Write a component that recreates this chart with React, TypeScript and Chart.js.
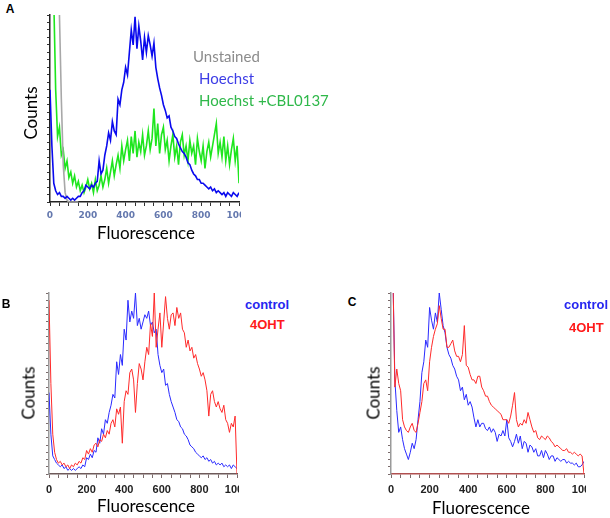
import React, { useEffect, useRef } from "react";
import { Chart, registerables } from "chart.js";
Chart.register(...registerables);

// Fluorescence channels (x values)
const channels = [
  0, 10, 20, 30, 40, 50, 60, 70, 80, 90,
  100, 110, 120, 130, 140, 150, 160, 170, 180, 190,
  200, 210, 220, 230, 240, 250, 260, 270, 280, 290,
  300, 310, 320, 330, 340, 350, 360, 370, 380, 390,
  400, 410, 420, 430, 440, 450, 460, 470, 480, 490,
  500, 510, 520, 530, 540, 550, 560, 570, 580, 590,
  600, 610, 620, 630, 640, 650, 660, 670, 680, 690,
  700, 710, 720, 730, 740, 750, 760, 770, 780, 790,
  800, 810, 820, 830, 840, 850, 860, 870, 880, 890,
  900, 910, 920, 930, 940, 950, 960, 970, 980, 990,
  1000,
];

// Panel A
const aUnstained = [110, 110, 110, 110, 110, 100, 55, 20, 5, 1, 0, 0, 0, 0, 0, 0];
const aHoechst = [
  60, 30, 10, 6, 4, 5, 3, 3, 2, 3,
  2, 1, 2, 1, 2, 3, 3, 5, 6, 9,
  8, 7, 9, 8, 10, 11, 22, 15, 17, 25,
  30, 37, 33, 43, 38, 36, 55, 52, 60, 64,
  72, 68, 80, 92, 84, 99, 82, 94, 86, 76,
  88, 80, 89, 84, 78, 85, 72, 66, 61, 57,
  52, 49, 45, 46, 40, 38, 35, 34, 31, 29,
  27, 26, 24, 21, 20, 17, 15, 14, 12, 12,
  10, 10, 9, 8, 7, 8, 6, 7, 5, 6,
  5, 4, 5, 3, 5, 4, 3, 5, 4, 3,
  5,
];
const aHoechstCBL = [
  105, 110, 108, 60, 35, 40, 25, 28, 18, 22,
  13, 16, 10, 14, 8, 11, 6, 9, 5, 8,
  12, 7, 10, 5, 12, 6, 9, 14, 8, 12,
  18, 10, 16, 22, 14, 20, 25, 18, 30, 22,
  28, 33, 22, 35, 26, 38, 24, 32, 27, 36,
  25, 30, 38, 28, 34, 50, 30, 42, 26, 36,
  40, 28, 33, 22, 30, 36, 24, 30, 20, 32,
  36, 25, 30, 22, 33, 26, 30, 20, 34, 27,
  22, 30, 18, 27, 32, 24, 30, 36, 42, 26,
  32, 24, 35, 22, 30, 20, 28, 34, 22, 30,
  10,
];

// Panel B
const bControl = [
  45, 22, 10, 8, 6, 5, 4, 5, 3, 4,
  2, 3, 2, 3, 2, 3, 4, 3, 5, 4,
  9, 8, 11, 9, 13, 12, 20, 17, 25, 22,
  30, 28, 34, 38, 44, 42, 62, 55, 66, 60,
  80, 74, 96, 84, 90, 86, 100, 82, 86, 80,
  84, 88, 86, 90, 82, 84, 78, 80, 66, 60,
  56, 58, 49, 50, 44, 40, 37, 34, 30, 29,
  26, 25, 22, 21, 19, 16, 15, 14, 12, 11,
  10, 9, 10, 8, 9, 7, 8, 6, 7, 5,
  6, 5, 6, 4, 5, 4, 5, 3, 5, 4,
  3,
];
const b4OHT = [
  96, 50, 22, 12, 8, 6, 7, 5, 6, 4,
  5, 3, 5, 4, 6, 5, 7, 6, 9, 8,
  13, 11, 14, 12, 16, 17, 15, 19, 18, 22,
  20, 24, 22, 28, 30, 26, 36, 33, 37, 17,
  40, 46, 44, 56, 58, 52, 34, 50, 61, 58,
  52, 62, 70, 66, 83, 76, 100, 70, 80, 89,
  70, 84, 98, 86, 80, 88, 89, 82, 92, 86,
  89, 80, 78, 70, 74, 68, 70, 64, 66, 61,
  58, 54, 56, 52, 46, 32, 44, 46, 40, 37,
  40, 36, 34, 38, 30, 28, 23, 28, 26, 32,
  0,
];

// Panel C
const cControl = [
  110, 110, 52, 35, 23, 26, 19, 14, 11, 8,
  12, 17, 14, 19, 30, 40, 56, 62, 74, 70,
  92, 85, 80, 89, 84, 100, 91, 82, 78, 70,
  66, 64, 60, 58, 54, 52, 46, 48, 41, 44,
  38, 40, 37, 31, 26, 30, 26, 28, 28, 25,
  24, 26, 23, 25, 23, 18, 22, 21, 24, 21,
  30, 20, 18, 15, 18, 22, 17, 21, 14, 18,
  17, 12, 16, 15, 12, 14, 10, 10, 13, 9,
  13, 11, 8, 10, 10, 7, 9, 8, 7, 8,
  8, 6, 7, 6, 6, 5, 6, 4, 4, 5,
  7,
];
const c4OHT = [
  110, 110, 48, 58, 50, 46, 30, 26, 24, 23,
  26, 28, 24, 23, 28, 34, 40, 50, 52, 46,
  62, 70, 76, 80, 83, 93, 86, 80, 80, 70,
  70, 72, 74, 68, 65, 65, 62, 66, 82, 60,
  59, 55, 52, 52, 50, 54, 54, 48, 46, 43,
  43, 40, 38, 37, 36, 35, 34, 33, 30, 30,
  30, 28, 32, 38, 45, 30, 26, 28, 27, 30,
  28, 34, 30, 26, 23, 24, 20, 19, 21, 20,
  19, 21, 20, 18, 17, 15, 16, 15, 14, 13,
  13, 14, 12, 12, 11, 12, 11, 10, 11, 10,
  0,
];

const xTickLabels = ["0", "200", "400", "600", "800", "1000"];

type Series = { data: number[]; color: string };
type PanelProps = {
  left: number;
  top: number;
  width: number;
  height: number;
  padTop: number;
  padRight: number;
  yWidth: number;
  xHeight: number;
  series: Series[];
  lineWidth: number;
  xAxisColor: string;
  yAxisColor: string;
  tickMarkColor: string;
  tickLabelColor: string;
  tickFont: { family: string; size: number; weight: string };
  tickPad: number;
};

function Panel(p: PanelProps) {
  const ref = useRef<HTMLCanvasElement>(null);
  useEffect(() => {
    const chart = new Chart(ref.current as HTMLCanvasElement, {
      type: "line",
      data: {
        labels: channels,
        datasets: p.series.map((s) => ({
          data: s.data,
          borderColor: s.color,
          borderWidth: p.lineWidth,
          pointRadius: 0,
          tension: 0,
          fill: false,
        })),
      },
      options: {
        responsive: false,
        animation: false,
        devicePixelRatio: 1,
        layout: { padding: { top: p.padTop, right: p.padRight, left: 0, bottom: 0 } },
        plugins: { legend: { display: false }, tooltip: { enabled: false } },
        scales: {
          x: {
            type: "linear",
            min: 0,
            max: 1000,
            border: { display: true, color: p.xAxisColor, width: 1.5 },
            grid: { drawOnChartArea: false, drawTicks: true, tickLength: 4, color: p.tickMarkColor },
            ticks: {
              stepSize: 50,
              autoSkip: false,
              maxRotation: 0,
              padding: p.tickPad,
              color: p.tickLabelColor,
              font: p.tickFont as any,
              callback: (v: any) => {
                const n = Number(v);
                return n % 200 === 0 ? xTickLabels[n / 200] : "";
              },
            },
            afterFit: (s: any) => {
              s.height = p.xHeight;
              s.paddingLeft = 0;
              s.paddingRight = 0;
            },
          },
          y: {
            min: 0,
            max: 100,
            border: { display: true, color: p.yAxisColor, width: 1.5 },
            grid: { drawOnChartArea: false, drawTicks: true, tickLength: 3, color: p.tickMarkColor },
            ticks: { display: false, stepSize: 4 },
            afterFit: (s: any) => {
              s.width = p.yWidth;
            },
          },
        },
      },
    });
    return () => chart.destroy();
  }, []);
  return (
    <canvas
      ref={ref}
      width={p.width}
      height={p.height}
      style={{ position: "absolute", left: p.left, top: p.top, width: p.width, height: p.height }}
    />
  );
}

function Txt(props: {
  x: number;
  y: number;
  text: string;
  color?: string;
  size: number;
  family: string;
  bold?: boolean;
  rotate?: boolean;
  anchor?: "left" | "center";
}) {
  const tx = props.anchor === "left" ? "0" : "-50%";
  return (
    <div
      style={{
        position: "absolute",
        left: props.x,
        top: props.y,
        transform: `translate(${tx}, -50%)${props.rotate ? " rotate(-90deg)" : ""}`,
        transformOrigin: props.rotate ? "50% 50%" : undefined,
        color: props.color || "#000",
        fontSize: props.size,
        fontFamily: props.family,
        fontWeight: props.bold ? 700 : 400,
        whiteSpace: "nowrap",
        lineHeight: 1,
      }}
    >
      {props.text}
    </div>
  );
}

const calibri = "Lato, 'Open Sans', sans-serif";
const arial = "'Liberation Sans', Arial, sans-serif";

export default function App() {
  return (
    <div style={{ position: "absolute", left: 0, top: 0, width: 610, height: 518, background: "#fff" }}>
      {/* Panel A */}
      <Panel
        left={38}
        top={10}
        width={203}
        height={220}
        padTop={5}
        padRight={2}
        yWidth={12}
        xHeight={28}
        lineWidth={1.6}
        series={[
          { data: aHoechst, color: "#0a0aee" },
          { data: aUnstained, color: "#a8a8a8" },
          { data: aHoechstCBL, color: "#1ee61e" },
        ]}
        xAxisColor="#222"
        yAxisColor="#222"
        tickMarkColor="#333"
        tickLabelColor="#6478ae"
        tickFont={{ family: "'DejaVu Sans', sans-serif", size: 9, weight: "bold" }}
        tickPad={4}
      />
      <Txt x={10} y={9} text="A" size={12} family={arial} bold />
      <Txt x={30} y={113} text="Counts" size={17} family={calibri} rotate />
      <Txt x={146} y={232} text="Fluorescence" size={17} family={calibri} />
      <Txt x={193} y={56} text="Unstained" size={15} family={calibri} color="#8c8c8c" anchor="left" />
      <Txt x={199} y={78} text="Hoechst" size={15} family={calibri} color="#3d3de6" anchor="left" />
      <Txt x={199} y={100} text="Hoechst +CBL0137" size={15} family={calibri} color="#2fb84a" anchor="left" />

      {/* Panel B */}
      <Panel
        left={37}
        top={285}
        width={202}
        height={230}
        padTop={8}
        padRight={2}
        yWidth={12}
        xHeight={41}
        lineWidth={1}
        series={[
          { data: b4OHT, color: "#ff2a2a" },
          { data: bControl, color: "#2a2aff" },
        ]}
        xAxisColor="#6e5a5a"
        yAxisColor="#9a9a9a"
        tickMarkColor="#7a6a6a"
        tickLabelColor="#222"
        tickFont={{ family: arial, size: 11, weight: "bold" }}
        tickPad={5}
      />
      <Txt x={6} y={304} text="B" size={12} family={arial} bold />
      <Txt x={28} y={393} text="Counts" size={17} family={calibri} rotate />
      <Txt x={146} y={505} text="Fluorescence" size={17} family={calibri} />
      <Txt x={245} y={304} text="control" size={13} family={arial} bold color="#2626f0" anchor="left" />
      <Txt x={250} y={324} text="4OHT" size={13} family={arial} bold color="#ff1a1a" anchor="left" />

      {/* Panel C */}
      <Panel
        left={379}
        top={285}
        width={207}
        height={230}
        padTop={8}
        padRight={2}
        yWidth={12}
        xHeight={41}
        lineWidth={1}
        series={[
          { data: c4OHT, color: "#ff2a2a" },
          { data: cControl, color: "#2a2aff" },
        ]}
        xAxisColor="#b05050"
        yAxisColor="#9a9a9a"
        tickMarkColor="#7a6a6a"
        tickLabelColor="#222"
        tickFont={{ family: arial, size: 11, weight: "bold" }}
        tickPad={5}
      />
      <Txt x={352} y={302} text="C" size={12} family={arial} bold />
      <Txt x={373} y={393} text="Counts" size={17} family={calibri} rotate />
      <Txt x={481} y={507} text="Fluorescence" size={17} family={calibri} />
      <Txt x={564} y={304} text="control" size={13} family={arial} bold color="#2626f0" anchor="left" />
      <Txt x={569} y={327} text="4OHT" size={13} family={arial} bold color="#ff1a1a" anchor="left" />
    </div>
  );
}
